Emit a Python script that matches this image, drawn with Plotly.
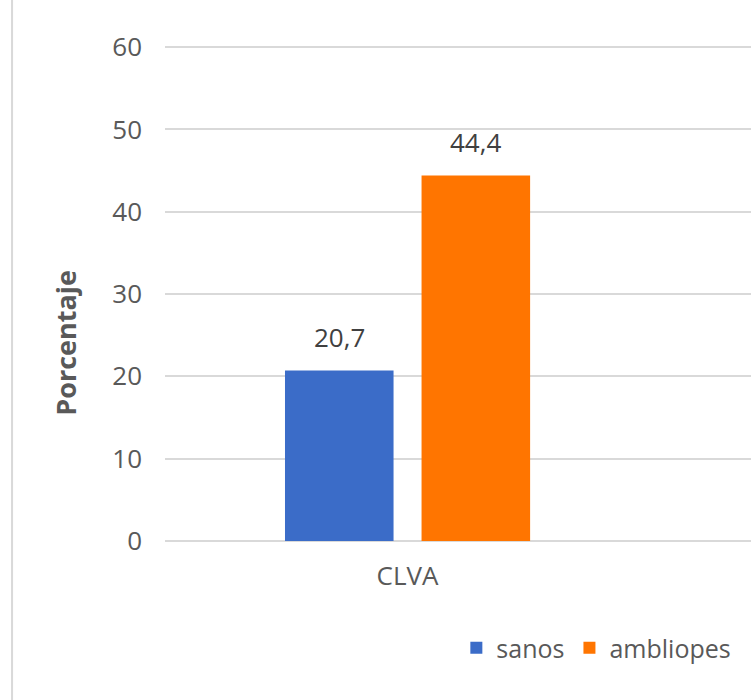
import plotly.graph_objects as go

categories = ["CLVA"]
series_names = ["sanos", "ambliopes"]
sanos = [20.7]
ambliopes = [44.4]
colors = ["#3B6CC8", "#FF7500"]
y_ticks = [0, 10, 20, 30, 40, 50, 60]

FONT = "Open Sans"
TXT = "#595959"

fig = go.Figure()
for name, vals, col in zip(series_names, [sanos, ambliopes], colors):
    fig.add_trace(go.Bar(
        x=categories, y=vals, name=name,
        marker=dict(color=col, line=dict(width=0)),
        hoverinfo="skip",
    ))

# data labels above bars
offsets = [-68.25, 68.25]
for vals, dx in zip([sanos, ambliopes], offsets):
    for c, v in zip(categories, vals):
        fig.add_annotation(
            x=c, y=v, xref="x", yref="y",
            text=f"{v:.1f}".replace(".", ","),
            showarrow=False, yanchor="bottom", xshift=dx, yshift=14,
            font=dict(family=FONT, size=26, color="#404040"),
        )

# y axis title
fig.add_annotation(
    x=-0.169, y=0.398, xref="paper", yref="paper",
    xanchor="center", yanchor="middle",
    text="<b>Porcentaje</b>", textangle=-90, showarrow=False,
    font=dict(family=FONT, size=27, color=TXT),
)

# outer frame edge on the left
fig.add_shape(type="line", xref="paper", yref="paper",
              x0=-0.261, x1=-0.261, y0=-0.34, y1=1.12,
              line=dict(color="#D9D9D9", width=2))

fig.update_layout(
    width=751, height=700,
    margin=dict(l=165, r=0, t=43, b=159),
    paper_bgcolor="white", plot_bgcolor="white",
    barmode="group", bargap=0.437, bargroupgap=0.205,
    font=dict(family=FONT, color=TXT),
    showlegend=True,
    legend=dict(
        orientation="h", x=0.975, xanchor="right", y=-0.215, yanchor="middle",
        font=dict(family=FONT, size=25, color=TXT),
        bgcolor="rgba(0,0,0,0)", itemclick=False, itemdoubleclick=False,
        traceorder="normal", itemwidth=30,
    ),
    xaxis=dict(
        range=[-0.5, 0.708], showgrid=False, showline=False, zeroline=False,
        tickfont=dict(family=FONT, size=26, color=TXT), ticks="",
        ticklabelstandoff=17, fixedrange=True,
    ),
    yaxis=dict(
        range=[0, 60.5], tickvals=y_ticks, showgrid=True, gridcolor="#D9D9D9",
        gridwidth=1.5, zeroline=True, zerolinecolor="#D9D9D9", zerolinewidth=1.5,
        showline=False, ticks="", ticklabelstandoff=22,
        tickfont=dict(family=FONT, size=26, color=TXT), fixedrange=True,
    ),
)

fig.write_html("out.html")
